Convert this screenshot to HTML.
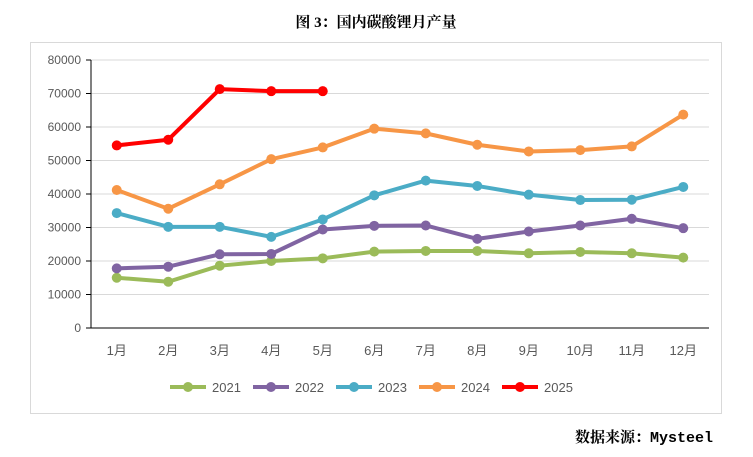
<!DOCTYPE html>
<html><head><meta charset="utf-8"><style>
body{margin:0;width:753px;height:452px;background:#fff;overflow:hidden;font-family:"Liberation Sans","Noto Sans CJK SC",sans-serif}
</style></head><body>
<svg width="753" height="452" xmlns="http://www.w3.org/2000/svg">
<text x="376" y="27" text-anchor="middle" font-size="15" font-weight="bold" font-family="'Liberation Serif','Noto Serif CJK SC',serif">图 3：国内碳酸锂月产量</text>
<rect x="30.5" y="42.5" width="691" height="371" fill="none" stroke="#d9d9d9"/>
<g id="grid"></g><g id="axes"></g><g id="series"></g><g id="legend"></g>
<text x="713" y="442" text-anchor="end" font-size="15" font-weight="bold" font-family="'Liberation Mono','Noto Serif CJK SC',monospace">数据来源：Mysteel</text>
</svg>
<script>
const categories=["1月","2月","3月","4月","5月","6月","7月","8月","9月","10月","11月","12月"];
const yTicks=[0,10000,20000,30000,40000,50000,60000,70000,80000];
const seriesNames=["2021","2022","2023","2024","2025"];
const seriesColors=["#9bbb59","#8064a2","#4bacc6","#f79646","#ff0000"];
const s2021=[15000,13800,18600,20000,20800,22800,23000,23000,22300,22700,22300,21000];
const s2022=[17800,18300,22000,22100,29400,30500,30600,26600,28800,30600,32600,29800];
const s2023=[34300,30200,30200,27200,32400,39600,44000,42400,39800,38200,38300,42100];
const s2024=[41200,35600,42900,50400,53900,59500,58100,54700,52700,53100,54200,63700];
const s2025=[54500,56200,71300,70700,70700];
const seriesData=[s2021,s2022,s2023,s2024,s2025];
const NS="http://www.w3.org/2000/svg";
const L=91,R=709,T=60,B=328,yMax=80000;
const bw=(R-L)/categories.length;
const x=i=>L+bw*(i+0.5);
const y=v=>B-(v/yMax)*(B-T);
function mk(tag,attrs,parent){const e=document.createElementNS(NS,tag);for(const k in attrs)e.setAttribute(k,attrs[k]);parent.appendChild(e);return e;}
const grid=document.getElementById('grid'),axes=document.getElementById('axes'),ser=document.getElementById('series'),leg=document.getElementById('legend');
yTicks.forEach(t=>{
 if(t>0){const g=mk('line',{x1:L,x2:R,y1:y(t),y2:y(t),stroke:'#d9d9d9'},grid);
 
 }
 const tk=mk('line',{x1:L-5,x2:L,y1:y(t),y2:y(t),stroke:'#000'},axes);
 
 
 const tx=mk('text',{x:L-10,y:y(t)+4,'text-anchor':'end','font-size':'12',fill:'#595959'},axes);
 tx.textContent=t;
 
 
});
const ya=mk('line',{x1:L,x2:L,y1:T,y2:B,stroke:'#000'},axes);


const xa=mk('line',{x1:L,x2:R,y1:B,y2:B,stroke:'#000'},axes);


categories.forEach((c,i)=>{
 const tx=mk('text',{x:x(i),y:355,'text-anchor':'middle','font-size':'13',fill:'#595959'},axes);
 tx.textContent=c;
 
 
});
seriesData.forEach((d,si)=>{
 const g=mk('g',{},ser);
 
 
 const pl=mk('polyline',{points:d.map((v,i)=>x(i)+','+y(v)).join(' '),fill:'none',stroke:seriesColors[si],'stroke-width':4,'stroke-linejoin':'round'},g);
 
 
 d.forEach((v,i)=>{
  const c=mk('circle',{cx:x(i),cy:y(v),r:5,fill:seriesColors[si]},g);
  
  
 });
});
const legX=[170,253,336,419,502];
seriesNames.forEach((n,i)=>{
 const g=mk('g',{},leg);
 
 
 mk('line',{x1:legX[i],x2:legX[i]+36,y1:387,y2:387,stroke:seriesColors[i],'stroke-width':4},g);
 mk('circle',{cx:legX[i]+18,cy:387,r:5,fill:seriesColors[i]},g);
 const t=mk('text',{x:legX[i]+42,y:392,'font-size':'13',fill:'#595959'},g);
 t.textContent=n;
});
</script>
</body></html>
